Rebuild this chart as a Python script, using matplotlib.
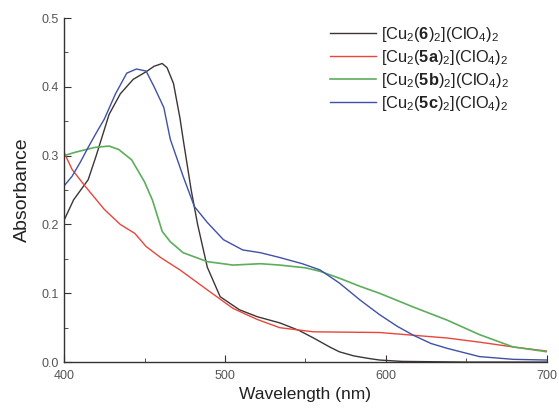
import numpy as np
import matplotlib
matplotlib.use('Agg')
import matplotlib.pyplot as plt
from matplotlib.ticker import MultipleLocator

plt.rcParams['font.family'] = ['Liberation Sans', 'DejaVu Sans']
plt.rcParams['mathtext.fontset'] = 'custom'
plt.rcParams['mathtext.rm'] = 'Liberation Sans'
plt.rcParams['mathtext.it'] = 'Liberation Sans:italic'
plt.rcParams['mathtext.bf'] = 'Liberation Sans:bold'

x_6 = [400, 406, 415, 420, 428, 435, 443, 451, 456, 461, 464, 468, 472, 474, 479, 483,
       489, 497, 509, 520, 534, 546, 555, 565, 571, 580, 590, 596, 610, 650, 700]
y_6 = [0.206, 0.236, 0.265, 0.3, 0.36, 0.39, 0.411, 0.422, 0.43, 0.434, 0.428, 0.405, 0.355,
       0.324, 0.25, 0.2, 0.138, 0.095, 0.076, 0.066, 0.057, 0.046, 0.035, 0.022, 0.015,
       0.009, 0.005, 0.003, 0.001, 0.0, 0.0]

x_5a = [400, 405, 413, 425, 435, 444, 451, 460, 472, 489, 505, 520, 534, 555, 596, 617,
        638, 658, 679, 700]
y_5a = [0.305, 0.28, 0.256, 0.222, 0.2, 0.187, 0.168, 0.152, 0.134, 0.105, 0.078, 0.062,
        0.05, 0.044, 0.043, 0.039, 0.035, 0.029, 0.022, 0.016]

x_5b = [400, 407, 419, 428, 434, 442, 450, 455, 461, 466, 474, 489, 505, 522, 534, 550,
        559, 571, 584, 596, 617, 638, 658, 679, 700]
y_5b = [0.3, 0.305, 0.312, 0.314, 0.309, 0.294, 0.262, 0.235, 0.19, 0.175, 0.159, 0.146,
        0.141, 0.143, 0.141, 0.137, 0.132, 0.122, 0.11, 0.1, 0.08, 0.061, 0.04, 0.022, 0.015]

x_5c = [400, 405, 410, 415, 420, 425, 432, 439, 445, 451, 456, 462, 466, 474, 481, 489,
        499, 511, 522, 534, 548, 559, 571, 584, 596, 607, 617, 628, 638, 658, 679, 700]
y_5c = [0.256, 0.27, 0.29, 0.312, 0.333, 0.353, 0.39, 0.42, 0.426, 0.423, 0.4, 0.37, 0.324,
        0.27, 0.226, 0.203, 0.178, 0.163, 0.159, 0.152, 0.143, 0.134, 0.115, 0.09, 0.069,
        0.052, 0.039, 0.027, 0.02, 0.008, 0.004, 0.003]

labels = [r'[Cu$_2$($\mathbf{6}$)$_2$](ClO$_4$)$_2$',
          r'[Cu$_2$($\mathbf{5a}$)$_2$](ClO$_4$)$_2$',
          r'[Cu$_2$($\mathbf{5b}$)$_2$](ClO$_4$)$_2$',
          r'[Cu$_2$($\mathbf{5c}$)$_2$](ClO$_4$)$_2$']

fig = plt.figure(figsize=(5.59, 4.11), dpi=100)
ax = fig.add_axes([0.1145, 0.119, 0.864, 0.837])

ax.plot(x_6, y_6, color='#3d3535', lw=1.0, label=labels[0])
ax.plot(x_5a, y_5a, color='#e8463c', lw=1.0, label=labels[1])
ax.plot(x_5b, y_5b, color='#5cad5c', lw=1.2, label=labels[2])
ax.plot(x_5c, y_5c, color='#4050a8', lw=1.0, label=labels[3])

ax.set_xlim(400, 700)
ax.set_ylim(0, 0.5)
ax.xaxis.set_major_locator(MultipleLocator(100))
ax.xaxis.set_minor_locator(MultipleLocator(50))
ax.yaxis.set_major_locator(MultipleLocator(0.1))
ax.yaxis.set_minor_locator(MultipleLocator(0.05))
ax.yaxis.set_major_formatter(matplotlib.ticker.FormatStrFormatter('%.1f'))

for s in ['top', 'right']:
    ax.spines[s].set_visible(False)
for s in ['left', 'bottom']:
    ax.spines[s].set_color('#333333')
    ax.spines[s].set_linewidth(1.0)

ax.tick_params(which='both', direction='in', color='#333333', labelcolor='#555555',
               labelsize=9)
ax.tick_params(which='major', length=5)
ax.tick_params(which='minor', length=3)
ax.tick_params(axis='x', pad=6)

ax.set_xlabel('Wavelength (nm)', fontsize=12.5, color='#222222', labelpad=3)
ax.set_ylabel('Absorbance', fontsize=14, color='#222222', labelpad=8)

leg = fig.legend(loc='upper left', bbox_to_anchor=(0.590, 0.94), frameon=False,
                 fontsize=11.8, handlelength=2.8, handletextpad=0.3,
                 labelspacing=0.25, borderpad=0, borderaxespad=0)
for t in leg.get_texts():
    t.set_color('#222222')

fig.savefig('out.png', dpi=100)
